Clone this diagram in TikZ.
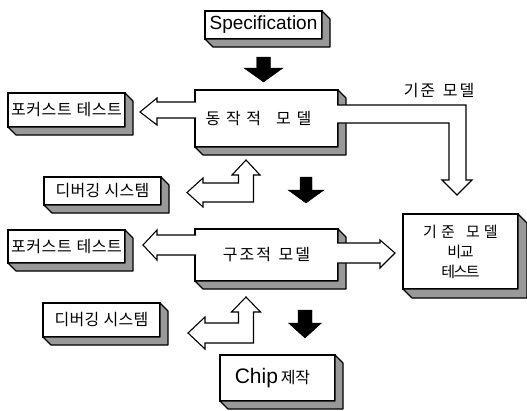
\documentclass[tikz,border=0pt]{standalone}
\usepackage{fontspec}
\setmainfont{Liberation Sans}
\newfontfamily\kr{Noto Sans CJK KR}
\usetikzlibrary{calc}
\makeatletter
\newcommand\lsp[2]{\def\lsp@k{#1}\@tfor\lsp@c:=#2\do{\lsp@c\kern\lsp@k}\unkern}
\makeatother
\tikzset{
  face/.style={draw, fill=white, line width=1.1pt, inner sep=0pt, outer sep=0pt, align=center},
  side/.style={draw, fill=gray!80, line width=1.1pt, line join=round},
  kf/.style={font=\kr\fontsize{16}{20}\selectfont},
  kfs/.style={font=\kr\fontsize{15}{20}\selectfont},
  hol/.style={draw, fill=white, line width=1.1pt, line join=miter},
  blk/.style={fill=black, draw=black, line width=0.4pt, line join=miter}
}
% name, NW corner, width, height, depth, node options, text
\newcommand\boxthree[7]{%
  \node[face, #6, minimum width=#3pt, minimum height=#4pt, anchor=north west] (#1) at (#2) {#7};
  \draw[side] (#1.south west) -- ($(#1.south west)+(#5,#5)$) -- ($(#1.south east)+(#5,#5)$)
     -- ($(#1.north east)+(#5,#5)$) -- (#1.north east) -- (#1.south east) -- cycle;
}
% top-centre coordinate, shaft half width, head base, head half width, tip
\newcommand\barrow[5]{%
  \fill[blk] ($(#1)+(-#2,0)$) -- ($(#1)+(#2,0)$) -- ($(#1)+(#2,#3)$) -- ($(#1)+(#4,#3)$)
     -- ($(#1)+(0,#5)$) -- ($(#1)+(-#4,#3)$) -- ($(#1)+(-#2,#3)$) -- cycle;
}
\begin{document}
\begin{tikzpicture}[x=1pt,y=-1pt]
\useasboundingbox (0,0) rectangle (527,410);

\boxthree{spec}{205,11}{117}{28}{8}{font=\fontsize{19}{22}\selectfont}{Specification}
\boxthree{dyn}{195,90}{143}{57}{8}{kf}{\lsp{5.7pt}{동작적~모델}\kern16pt}
\boxthree{fc1}{8,93}{117}{34}{8}{kf}{\lsp{0.6pt}{포커스트~테스트}}
\boxthree{dbg1}{44,177}{117}{28}{8}{kf}{\lsp{0.3pt}{디버깅~시스템}}
\boxthree{str}{195,229}{143}{52}{8}{kf}{\lsp{2pt}{구조적~모델}}
\boxthree{fc2}{8,230}{117}{33}{8}{kf}{\lsp{0.6pt}{포커스트~테스트}}
\boxthree{dbg2}{43,303}{117}{34}{8}{kf}{\lsp{0.3pt}{디버깅~시스템}}
\boxthree{cmp}{403,214}{115}{75}{9}{kfs}{\lsp{4pt}{기준~모델}\\\lsp{-1.5pt}{비교}\\\lsp{-1.5pt}{테스트}}
\boxthree{chip}{220,355}{115}{46}{8}{}{{\fontsize{21}{24}\selectfont Chip} {\kr\fontsize{16}{18}\selectfont 제작}\kern10pt}

\node[kf] (lbl) at (439,91) {\lsp{2pt}{기준~모델}};

% hollow bent arrow: dyn -> cmp
\coordinate (r1a) at ($(dyn.north east)+(-1,15)$);
\coordinate (r1b) at ($(dyn.north east)+(-1,33)$);
\coordinate (r1t) at ($(cmp.north)+(-3.5,-19)$);
\path[hol] (r1a) -- ($(r1t|-r1a)+(9,0)$) -- ($(r1t)+(9,-15)$) -- ($(r1t)+(15,-15)$) -- (r1t)
  -- ($(r1t)+(-15,-15)$) -- ($(r1t)+(-8,-15)$) -- ($(r1t|-r1b)+(-8,0)$) -- (r1b);

% hollow arrow: dyn -> fc1
\coordinate (l1t) at ($(fc1.east)+(15,2)$);
\path[hol] ($(dyn.west|-l1t)+(1,-10)$) -- ($(l1t)+(17,-10)$) -- ($(l1t)+(17,-14)$) -- (l1t)
  -- ($(l1t)+(17,13)$) -- ($(l1t)+(17,6)$) -- ($(dyn.west|-l1t)+(1,6)$);

% hollow arrow: str -> fc2
\coordinate (l2t) at ($(fc2.east)+(18,-1.5)$);
\path[hol] ($(str.west|-l2t)+(1,-10)$) -- ($(l2t)+(14,-10)$) -- ($(l2t)+(14,-15)$) -- (l2t)
  -- ($(l2t)+(14,15)$) -- ($(l2t)+(14,10)$) -- ($(str.west|-l2t)+(1,10)$);

% hollow arrow: str -> cmp
\coordinate (r2t) at ($(cmp.west)+(-8,1.5)$);
\path[hol] ($(str.east|-r2t)+(-1,-10)$) -- ($(r2t)+(-15,-10)$) -- ($(r2t)+(-15,-13)$) -- (r2t)
  -- ($(r2t)+(-15,15)$) -- ($(r2t)+(-15,10)$) -- ($(str.east|-r2t)+(-1,10)$);

% double-headed L arrow: dbg1 <-> dyn
\coordinate (ut1) at ($(dyn.south)+(-20.5,13)$);
\coordinate (lt1) at ($(dbg1.east)+(26,1.5)$);
\path[hol] (ut1) -- ($(ut1)+(14,15)$) -- ($(ut1)+(7.5,15)$) -- ($(ut1|-lt1)+(7.5,9.5)$)
  -- ($(lt1)+(16,9.5)$) -- ($(lt1)+(16,14.5)$) -- (lt1) -- ($(lt1)+(16,-14.5)$)
  -- ($(lt1)+(16,-9.5)$) -- ($(ut1|-lt1)+(-7.5,-9.5)$) -- ($(ut1)+(-7.5,15)$)
  -- ($(ut1)+(-14,15)$) -- cycle;

% double-headed L arrow: dbg2 <-> str
\coordinate (ut2) at ($(str.south)+(-20.5,16)$);
\coordinate (lt2) at ($(dbg2.east)+(28,13)$);
\path[hol] (ut2) -- ($(ut2)+(14.5,15)$) -- ($(ut2)+(7.5,15)$) -- ($(ut2|-lt2)+(7.5,10)$)
  -- ($(lt2)+(17,10)$) -- ($(lt2)+(17,16)$) -- (lt2) -- ($(lt2)+(17,-16)$)
  -- ($(lt2)+(17,-10)$) -- ($(ut2|-lt2)+(-7.5,-10)$) -- ($(ut2)+(-7.5,15)$)
  -- ($(ut2)+(-14.5,15)$) -- cycle;

% solid arrows
\coordinate (b1) at ($(spec.south)+(0,18)$);
\barrow{b1}{7}{11}{19.5}{25}
\coordinate (b2) at ($(dyn.south)+(39.5,30)$);
\barrow{b2}{6}{13}{18}{26}
\coordinate (b3) at ($(str.south)+(38.5,29)$);
\barrow{b3}{7}{13}{16.5}{28}
\end{tikzpicture}
\end{document}
